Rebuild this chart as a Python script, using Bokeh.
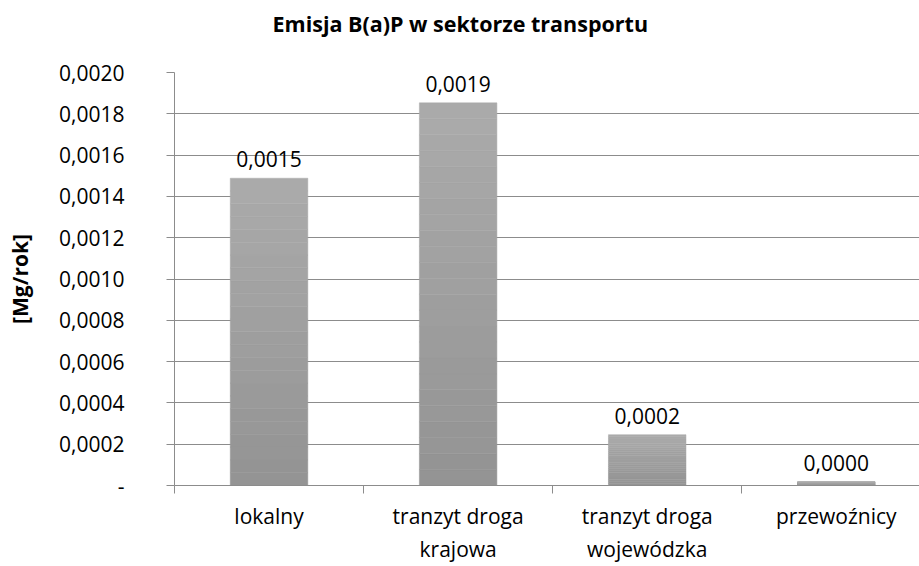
from bokeh.plotting import figure
from bokeh.models import Range1d, FixedTicker, CustomJSTickFormatter, ColumnDataSource, Title
from bokeh.embed import file_html
from bokeh.resources import INLINE
from bokeh.core.properties import value

# ---- data ----
categories = ["lokalny", "tranzyt droga\nkrajowa", "tranzyt droga\nwojewódzka", "przewoźnicy"]
emissions = [0.001488, 0.001853, 0.000246, 0.000018]
y_ticks = [0.0, 0.0002, 0.0004, 0.0006, 0.0008, 0.0010, 0.0012, 0.0014, 0.0016, 0.0018, 0.0020]
title_text = "Emisja B(a)P w sektorze transportu"
y_label = "[Mg/rok]"

FONT = "Open Sans"
centers = [i + 0.5 for i in range(len(categories))]
boundaries = [float(i) for i in range(len(categories) + 1)]

p = figure(width=919, height=566, output_backend="svg", toolbar_location=None,
           x_range=Range1d(0, 3.94), y_range=Range1d(0, 0.0020),
           min_border_left=174, min_border_right=0, min_border_top=72, min_border_bottom=80)
p.outline_line_color = None
p.background_fill_color = "white"
p.border_fill_color = "white"

# gradient bars: slices of each bar, light at top, dark at bottom
N = 24
top_c = (0xAB, 0xAB, 0xAB)
bot_c = (0x93, 0x93, 0x93)
xs, bottoms, tops, colors = [], [], [], []
for c, v in zip(centers, emissions):
    for i in range(N):
        f = (i + 0.5) / N
        col = tuple(int(round(b + (t - b) * f)) for b, t in zip(bot_c, top_c))
        xs.append(c)
        bottoms.append(v * i / N)
        tops.append(v * (i + 1) / N)
        colors.append("#%02x%02x%02x" % col)
src = ColumnDataSource(dict(x=xs, bottom=bottoms, top=tops, color=colors))
p.vbar(x="x", bottom="bottom", top="top", width=0.41, fill_color="color",
       line_color="color", line_width=0.5, source=src)

# value labels
lab_src = ColumnDataSource(dict(x=centers, y=emissions,
                                t=[f"{v:.4f}".replace(".", ",") for v in emissions]))
p.text(x="x", y="y", text="t", source=lab_src, text_align="center",
       text_baseline="alphabetic", y_offset=-19, text_font=value(FONT),
       text_font_size="21px", text_color="#000000")

# y axis
p.yaxis.ticker = FixedTicker(ticks=y_ticks)
p.yaxis.formatter = CustomJSTickFormatter(
    code="return Math.abs(tick) < 1e-12 ? '-' : tick.toFixed(4).replace('.', ',');")
p.yaxis.axis_label = y_label
p.yaxis.axis_label_text_font = FONT
p.yaxis.axis_label_text_font_style = "bold"
p.yaxis.axis_label_text_font_size = "21px"
p.yaxis.axis_label_text_color = "#000000"
p.yaxis.axis_label_standoff = 22
p.yaxis.major_label_text_font = FONT
p.yaxis.major_label_text_font_size = "21px"
p.yaxis.major_label_text_color = "#000000"
p.yaxis.major_label_standoff = 42
p.yaxis.major_tick_out = 8
p.yaxis.major_tick_in = 0
p.yaxis.minor_tick_line_color = None
p.yaxis.axis_line_color = "#8c8c8c"
p.yaxis.major_tick_line_color = "#8c8c8c"

# x axis
p.xaxis.ticker = FixedTicker(ticks=centers, minor_ticks=boundaries)
p.xaxis.formatter = CustomJSTickFormatter(args=dict(labels=categories),
                                          code="return labels[Math.floor(tick)];")
p.xaxis.major_tick_line_color = None
p.xaxis.major_tick_out = 0
p.xaxis.major_tick_in = 0
p.xaxis.minor_tick_out = 8
p.xaxis.minor_tick_in = 0
p.xaxis.minor_tick_line_color = "#8c8c8c"
p.xaxis.axis_line_color = "#8c8c8c"
p.xaxis.major_label_text_font = FONT
p.xaxis.major_label_text_font_size = "21px"
p.xaxis.major_label_text_color = "#000000"
p.xaxis.major_label_standoff = 8

# grid
p.xgrid.grid_line_color = None
p.ygrid.ticker = FixedTicker(ticks=y_ticks)
p.ygrid.grid_line_color = "#8c8c8c"
p.ygrid.grid_line_width = 1

# real title
p.title.text = title_text
p.title.text_font = FONT
p.title.text_font_style = "bold"
p.title.text_font_size = "21.5px"
p.title.text_color = "#000000"
p.title.align = "left"
p.title.offset = 98
p.title.vertical_align = "top"
p.title.standoff = 16

# spacer between title and plot area
spacer = Title(text=" ", text_font=FONT, text_font_size="1px", standoff=22)
p.add_layout(spacer, "above")

open("out.html", "w").write(file_html(p, INLINE))
